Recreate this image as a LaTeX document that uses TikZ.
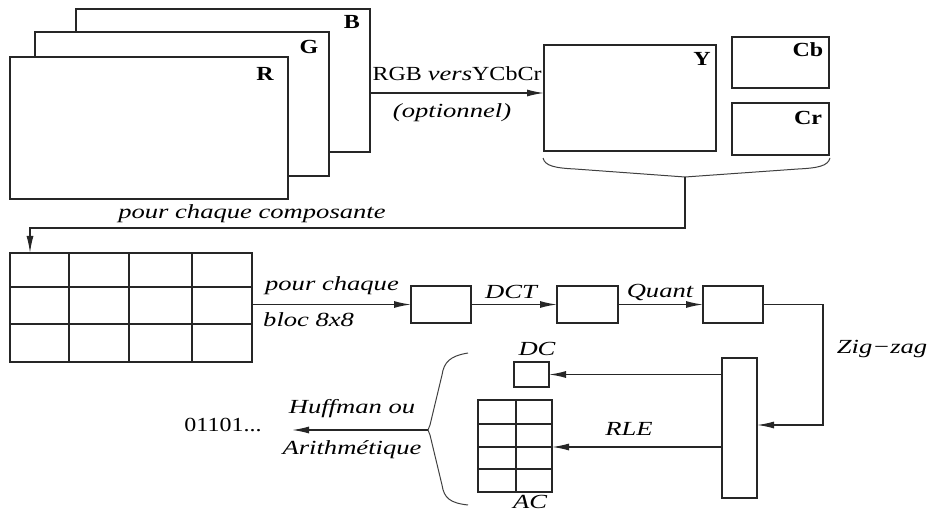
\documentclass[tikz,border=0pt]{standalone}
\usepackage{fontspec}
\setmainfont{Liberation Serif}[FakeStretch=1.2]
\newfontfamily\itf{Liberation Serif}[FakeStretch=1.33]
\usetikzlibrary{arrows.meta}
\newcommand\myfs{\fontsize{20}{23}\selectfont}
\begin{document}
\begin{tikzpicture}[x=1pt,y=-1pt,
  box/.style={draw=black!85,line width=1.4pt,fill=white,inner sep=0pt,outer sep=0pt,anchor=north west},
  gl/.style={draw=black!85,line width=1.4pt},
  arr/.style={draw=black!85,line width=1.4pt,-{Latex[length=17pt,width=7pt]}},
  brc/.style={draw=black!75,line width=1pt},
  up/.style={font=\myfs,inner sep=0pt},
  bl/.style={font=\myfs\bfseries,inner sep=0pt},
  it/.style={font=\myfs\itf\itshape,inner sep=0pt}]
\useasboundingbox (0,0) rectangle (929,513);
% RGB planes
\node[box,minimum width=294pt,minimum height=143pt] (B) at (76,9) {};
\node[box,minimum width=294pt,minimum height=144pt] (G) at (35,32) {};
\node[box,minimum width=278pt,minimum height=142pt] (R) at (10,57) {};
\node[bl] (Bl) at (352,21.5) {B};
\node[bl] (Gl) at (309,46.5) {G};
\node[bl] (Rl) at (265,74) {R};
% YCbCr planes
\node[box,minimum width=172pt,minimum height=106pt] (Y) at (544,45) {};
\node[box,minimum width=97pt,minimum height=51pt] (Cb) at (732,37) {};
\node[box,minimum width=97pt,minimum height=52pt] (Cr) at (732,103) {};
\node[bl] (Yl) at (702,59) {Y};
\node[bl] (Cbl) at (808,50) {Cb};
\node[bl] (Crl) at (808,118) {Cr};
% RGB -> YCbCr
\coordinate (rgbA) at (370,93);
\draw[arr] (B.east |- rgbA) -- (Y.west |- rgbA);
\node[up] (rgbt) at (457,73.5) {RGB {\itf\itshape vers}YCbCr};
\node[it] (optt) at (452,113) {(optionnel)};
% top brace
\draw[brc] (543,158) .. controls (545,166) and (555,168) .. (575,169) -- (685,177) -- (798,169) .. controls (818,168) and (828,166) .. (830,158);
\coordinate (ytip) at (685,177);
\coordinate (c1) at (685,228);
\coordinate (c2) at (30,228);
\node[it] (pcc) at (252,213.5) {pour chaque composante};
% grid of blocks
\node[box,minimum width=242pt,minimum height=109pt] (grid) at (10,253) {};
\draw[gl] (69,253) -- (69,362) (129,253) -- (129,362) (192,253) -- (192,362)
          (10,287) -- (252,287) (10,324) -- (252,324);
\draw[arr] (ytip) -- (c1) -- (c2) -- (c2 |- grid.north);
% block chain
\node[box,minimum width=60pt,minimum height=37pt] (b1) at (411,286) {};
\node[box,minimum width=61pt,minimum height=37pt] (b2) at (557,286) {};
\node[box,minimum width=60pt,minimum height=37pt] (b3) at (703,286) {};
\draw[arr] (grid.east |- b1.west) -- (b1.west);
\node[it] (pc) at (332,286) {pour chaque};
\node[it,anchor=west] (b8) at (263,319.5) {bloc 8x8};
\draw[arr] (b1.east) -- (b2.west);
\draw[arr] (b2.east) -- (b3.west);
\node[it] (dct) at (511,292) {DCT};
\node[it] (qt) at (660,292.5) {Quant};
% zig-zag
\node[box,minimum width=35pt,minimum height=140pt] (tall) at (722,358) {};
\coordinate (zz) at (823,425);
\draw[arr] (b3.east) -| (zz) -- (tall.east |- zz);
\node[it] (zig) at (882,349) {Zig−zag};
% DC / AC
\node[box,minimum width=35pt,minimum height=25pt] (dc) at (514,362) {};
\node[box,minimum width=74pt,minimum height=92pt] (ac) at (478,400) {};
\draw[gl] (516,400) -- (516,492) (478,424) -- (552,424) (478,447) -- (552,447) (478,469) -- (552,469);
\node[it] (dcl) at (537,349) {DC};
\node[it] (acl) at (530,502) {AC};
\draw[arr] (tall.west |- dc.east) -- (dc.east);
\draw[arr] (tall.west |- 0,447) -- (ac.east |- 0,447);
\node[it] (rle) at (629,428.5) {RLE};
% left brace and output
\draw[brc] (468,353) .. controls (450,356) and (444,362) .. (442,375) -- (430,425) -- (428,430) -- (430,435) -- (442,485) .. controls (444,498) and (450,503) .. (468,505);
\coordinate (ltip) at (428,430);
\coordinate (outA) at (292,430);
\draw[arr] (ltip) -- (outA);
\node[it] (huf) at (352,408.5) {Huffman ou};
\node[it] (ari) at (352,450) {Arithmétique};
\node[up] (bits) at (223,425) {01101...};
\end{tikzpicture}
\end{document}
